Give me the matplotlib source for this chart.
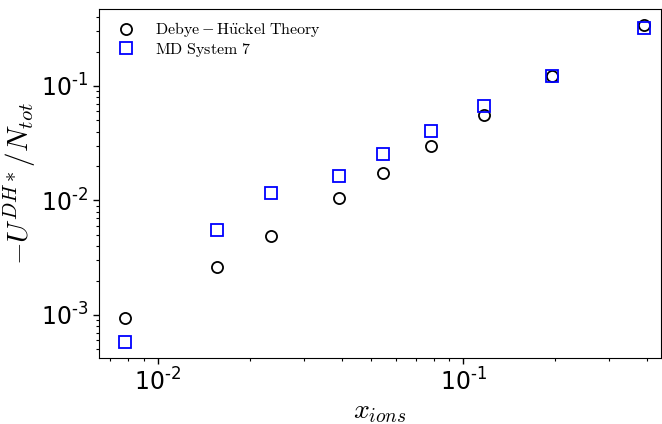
import matplotlib
matplotlib.use("Agg")
import matplotlib.pyplot as plt
from matplotlib.ticker import FuncFormatter, LogLocator
import numpy as np

# Ion mole fractions (multiples of 1/128)
x_ions = [0.0078125, 0.015625, 0.0234375, 0.0390625, 0.0546875,
          0.078125, 0.1171875, 0.1953125, 0.390625]

# Reduced Debye-Hueckel energy per particle
u_theory = [9.46e-4, 2.62e-3, 4.90e-3, 1.06e-2, 1.75e-2,
            2.99e-2, 5.55e-2, 0.123, 0.341]
u_md = [5.81e-4, 5.52e-3, 1.16e-2, 1.65e-2, 2.55e-2,
        4.02e-2, 6.68e-2, 0.1216, 0.323]

plt.rcParams['axes.unicode_minus'] = False

fig = plt.figure(figsize=(6.62, 4.24), dpi=100)
ax = fig.add_axes([0.1495, 0.1557, 0.849, 0.8231])

ax.plot(x_ions, u_theory, linestyle='none', marker='o', markersize=8,
        markerfacecolor='none', markeredgecolor='black', markeredgewidth=1.3,
        label=r'$\mathrm{Debye-H\ddot{u}ckel\ Theory}$')
ax.plot(x_ions, u_md, linestyle='none', marker='s', markersize=8,
        markerfacecolor='none', markeredgecolor='blue', markeredgewidth=1.3,
        label=r'$\mathrm{MD\ System\ 7}$')

ax.set_xscale('log')
ax.set_yscale('log')
ax.set_xlim(0.00642, 0.4434)
ax.set_ylim(4.21e-4, 0.4706)


def pow10(v, pos):
    e = int(round(np.log10(v)))
    sign = r'\text{-}' if e < 0 else ''
    return r'$\mathregular{10^{%s%d}}$' % (sign, abs(e))


for axis in (ax.xaxis, ax.yaxis):
    axis.set_major_locator(LogLocator(base=10))
    axis.set_major_formatter(FuncFormatter(pow10))
ax.tick_params(axis='both', which='major', labelsize=17, length=4, width=1)
ax.tick_params(axis='both', which='minor', length=2.5, width=0.8)
for lab in ax.get_xticklabels() + ax.get_yticklabels():
    lab.set_math_fontfamily('dejavusans')

ax.set_xlabel(r'$x_{ions}$', fontsize=20, math_fontfamily='cm', labelpad=1)
ax.set_ylabel(r'$-U^{DH*}/N_{tot}$', fontsize=21, math_fontfamily='cm', labelpad=2)

leg = ax.legend(loc='upper left', frameon=False, fontsize=11.5,
                handletextpad=0.8, borderaxespad=0.3, labelspacing=0.1)
for t in leg.get_texts():
    t.set_math_fontfamily('cm')

fig.savefig('out.png', dpi=100)
